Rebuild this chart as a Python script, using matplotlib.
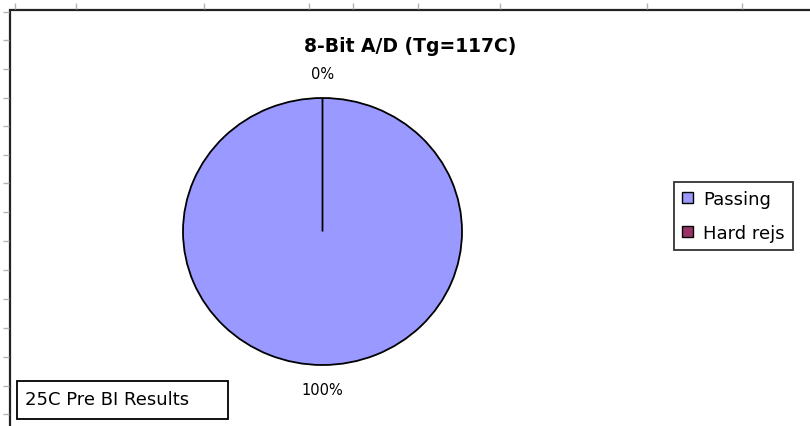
import matplotlib
matplotlib.use("Agg")
import matplotlib.pyplot as plt
from matplotlib.patches import Rectangle

# ---- data ----
categories = ["Passing", "Hard rejs"]
values = [100, 0]
colors = ["#9999FF", "#993366"]
title = "8-Bit A/D (Tg=117C)"
note = "25C Pre BI Results"

# ---- layout (pixel units of the 810x427 canvas) ----
W, H = 810, 427
col_edges = [15, 76, 204, 309, 353, 418, 500, 647, 742]
row_edges = [13, 41, 70, 99, 127, 156, 184, 213, 242, 271, 300, 329, 358, 387, 415]

plt.rcParams['font.family'] = ['DejaVu Sans']

fig = plt.figure(figsize=(W / 100, H / 100), dpi=100)
fig.patch.set_facecolor("white")

bg = fig.add_axes([0, 0, 1, 1])
bg.set_xlim(0, W)
bg.set_ylim(H, 0)
bg.axis("off")

# chart frame (right/bottom edges are cropped off in the reference)
bg.plot([10, 10, W + 5], [H + 5, 10.5, 10.5], color="#222222", lw=1.6,
        solid_joinstyle="miter", solid_capstyle="projecting")
bg.vlines(col_edges, 4, 9.5, color="#b4b4b4", lw=1.0)
bg.hlines(row_edges, 3, 9, color="#b4b4b4", lw=1.0)

# title
bg.text(410, 47, title, ha="center", va="center", fontsize=13.5,
        fontweight="bold", color="black")

# pie
pax = fig.add_axes([183 / W, (H - 366) / H, 279 / W, 267 / H])
wedges, texts, autotexts = pax.pie(
    values, colors=colors, startangle=90, counterclock=False,
    autopct=lambda p: f"{p:.0f}%", pctdistance=1.18,
    wedgeprops=dict(edgecolor="black", linewidth=1.3),
    textprops=dict(fontsize=10.5, color="black"))
pax.set_aspect("auto")
pax.set_xlim(-1, 1)
pax.set_ylim(-1, 1)
pax.axis("off")

# legend
leg = fig.legend(wedges, categories, loc="upper left",
                 bbox_to_anchor=(674, 183), bbox_transform=bg.transData,
                 borderaxespad=0, fontsize=13, frameon=True, fancybox=False,
                 shadow=False, handlelength=0.6, handleheight=0.6,
                 handletextpad=0.55, labelspacing=0.88, borderpad=0.45,
                 edgecolor="black")
leg.get_frame().set_linewidth(1.3)
for h in leg.legend_handles:
    h.set_edgecolor("black")
    h.set_linewidth(1.0)

# note box
bg.add_patch(Rectangle((17, 382), 211, 38, facecolor="white",
                       edgecolor="black", lw=1.3))
bg.text(25, 400, note, ha="left", va="center", fontsize=13, color="black")

fig.savefig("out.png", dpi=100)
